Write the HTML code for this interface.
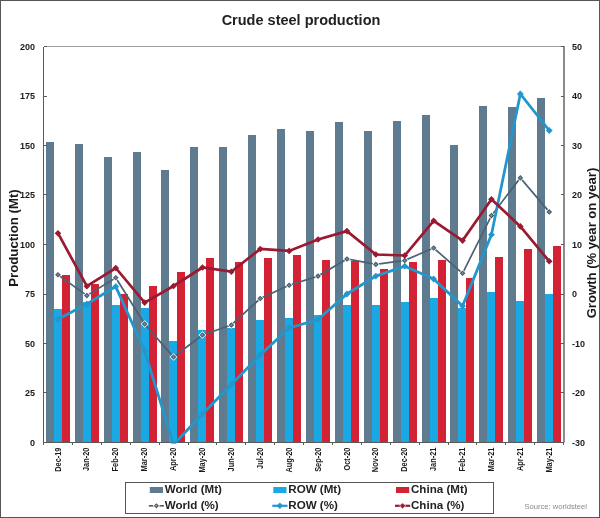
<!DOCTYPE html><html><head><meta charset="utf-8"><title>Crude steel production</title><style>html,body{margin:0;padding:0;background:#fff;}body{width:600px;height:518px;overflow:hidden;}svg{display:block;}text{font-family:'Liberation Sans', Arial, sans-serif;}</style></head><body><svg width="600" height="518" viewBox="0 0 600 518"><rect x="0" y="0" width="600" height="518" fill="#fff"/><rect x="0.5" y="0.5" width="599" height="517" fill="none" stroke="#555" stroke-width="1"/><text x="301" y="25.4" text-anchor="middle" font-size="14.5" font-weight="bold" fill="#222">Crude steel production</text><g shape-rendering="crispEdges"><rect x="45.85" y="142" width="8" height="300" fill="#5e7b8f"/><rect x="53.85" y="309.1" width="8" height="132.9" fill="#1aa8e4"/><rect x="61.85" y="274.7" width="8" height="167.3" fill="#d22233"/><rect x="74.75" y="143.5" width="8" height="298.5" fill="#5e7b8f"/><rect x="82.75" y="301.9" width="8" height="140.1" fill="#1aa8e4"/><rect x="90.75" y="283.9" width="8" height="158.1" fill="#d22233"/><rect x="103.65" y="156.7" width="8" height="285.3" fill="#5e7b8f"/><rect x="111.65" y="304.9" width="8" height="137.1" fill="#1aa8e4"/><rect x="119.65" y="294.4" width="8" height="147.6" fill="#d22233"/><rect x="132.55" y="151.6" width="8" height="290.4" fill="#5e7b8f"/><rect x="140.55" y="307.9" width="8" height="134.1" fill="#1aa8e4"/><rect x="148.55" y="286" width="8" height="156" fill="#d22233"/><rect x="161.45" y="169.9" width="8" height="272.1" fill="#5e7b8f"/><rect x="169.45" y="340.8" width="8" height="101.2" fill="#1aa8e4"/><rect x="177.45" y="271.8" width="8" height="170.2" fill="#d22233"/><rect x="190.35" y="146.5" width="8" height="295.5" fill="#5e7b8f"/><rect x="198.35" y="330.2" width="8" height="111.8" fill="#1aa8e4"/><rect x="206.35" y="257.8" width="8" height="184.2" fill="#d22233"/><rect x="219.25" y="146.5" width="8" height="295.5" fill="#5e7b8f"/><rect x="227.25" y="327.9" width="8" height="114.1" fill="#1aa8e4"/><rect x="235.25" y="261.7" width="8" height="180.3" fill="#d22233"/><rect x="248.15" y="135.1" width="8" height="306.9" fill="#5e7b8f"/><rect x="256.15" y="320" width="8" height="122" fill="#1aa8e4"/><rect x="264.15" y="258" width="8" height="184" fill="#d22233"/><rect x="277.05" y="129.4" width="8" height="312.6" fill="#5e7b8f"/><rect x="285.05" y="317.7" width="8" height="124.3" fill="#1aa8e4"/><rect x="293.05" y="255.1" width="8" height="186.9" fill="#d22233"/><rect x="305.95" y="130.9" width="8" height="311.1" fill="#5e7b8f"/><rect x="313.95" y="315.1" width="8" height="126.9" fill="#1aa8e4"/><rect x="321.95" y="259.6" width="8" height="182.4" fill="#d22233"/><rect x="334.85" y="121.9" width="8" height="320.1" fill="#5e7b8f"/><rect x="342.85" y="304.9" width="8" height="137.1" fill="#1aa8e4"/><rect x="350.85" y="261.1" width="8" height="180.9" fill="#d22233"/><rect x="363.75" y="130.9" width="8" height="311.1" fill="#5e7b8f"/><rect x="371.75" y="304.9" width="8" height="137.1" fill="#1aa8e4"/><rect x="379.75" y="268.9" width="8" height="173.1" fill="#d22233"/><rect x="392.65" y="121.4" width="8" height="320.6" fill="#5e7b8f"/><rect x="400.65" y="302" width="8" height="140" fill="#1aa8e4"/><rect x="408.65" y="262" width="8" height="180" fill="#d22233"/><rect x="421.55" y="115.4" width="8" height="326.6" fill="#5e7b8f"/><rect x="429.55" y="298" width="8" height="144" fill="#1aa8e4"/><rect x="437.55" y="260.3" width="8" height="181.7" fill="#d22233"/><rect x="450.45" y="144.8" width="8" height="297.2" fill="#5e7b8f"/><rect x="458.45" y="307.5" width="8" height="134.5" fill="#1aa8e4"/><rect x="466.45" y="278.2" width="8" height="163.8" fill="#d22233"/><rect x="479.35" y="105.8" width="8" height="336.2" fill="#5e7b8f"/><rect x="487.35" y="291.6" width="8" height="150.4" fill="#1aa8e4"/><rect x="495.35" y="256.6" width="8" height="185.4" fill="#d22233"/><rect x="508.25" y="107.2" width="8" height="334.8" fill="#5e7b8f"/><rect x="516.25" y="300.5" width="8" height="141.5" fill="#1aa8e4"/><rect x="524.25" y="248.9" width="8" height="193.1" fill="#d22233"/><rect x="537.15" y="97.7" width="8" height="344.3" fill="#5e7b8f"/><rect x="545.15" y="294.3" width="8" height="147.7" fill="#1aa8e4"/><rect x="553.15" y="245.8" width="8" height="196.2" fill="#d22233"/></g><g shape-rendering="crispEdges" fill="none" stroke-width="1"><line x1="43.5" y1="46.5" x2="563.5" y2="46.5" stroke="#a0a0a0"/><line x1="43.5" y1="46.5" x2="43.5" y2="445" stroke="#5a5a5a"/><line x1="564" y1="46" x2="564" y2="442.5" stroke="#5a5a5a" stroke-width="1.4" shape-rendering="geometricPrecision"/><line x1="43.5" y1="442.5" x2="563.5" y2="442.5" stroke="#5a5a5a"/><line x1="43.5" y1="46.5" x2="46.5" y2="46.5" stroke="#5a5a5a"/><line x1="561" y1="46.5" x2="564" y2="46.5" stroke="#5a5a5a"/><line x1="43.5" y1="96.5" x2="46.5" y2="96.5" stroke="#5a5a5a"/><line x1="561" y1="96.5" x2="564" y2="96.5" stroke="#5a5a5a"/><line x1="43.5" y1="145.5" x2="46.5" y2="145.5" stroke="#5a5a5a"/><line x1="561" y1="145.5" x2="564" y2="145.5" stroke="#5a5a5a"/><line x1="43.5" y1="194.5" x2="46.5" y2="194.5" stroke="#5a5a5a"/><line x1="561" y1="194.5" x2="564" y2="194.5" stroke="#5a5a5a"/><line x1="43.5" y1="244.5" x2="46.5" y2="244.5" stroke="#5a5a5a"/><line x1="561" y1="244.5" x2="564" y2="244.5" stroke="#5a5a5a"/><line x1="43.5" y1="294.5" x2="46.5" y2="294.5" stroke="#5a5a5a"/><line x1="561" y1="294.5" x2="564" y2="294.5" stroke="#5a5a5a"/><line x1="43.5" y1="343.5" x2="46.5" y2="343.5" stroke="#5a5a5a"/><line x1="561" y1="343.5" x2="564" y2="343.5" stroke="#5a5a5a"/><line x1="43.5" y1="392.5" x2="46.5" y2="392.5" stroke="#5a5a5a"/><line x1="561" y1="392.5" x2="564" y2="392.5" stroke="#5a5a5a"/><line x1="43.5" y1="442.5" x2="46.5" y2="442.5" stroke="#5a5a5a"/><line x1="561" y1="442.5" x2="564" y2="442.5" stroke="#5a5a5a"/><line x1="43.5" y1="442.5" x2="43.5" y2="445" stroke="#5a5a5a"/><line x1="72.5" y1="442.5" x2="72.5" y2="445" stroke="#5a5a5a"/><line x1="101.5" y1="442.5" x2="101.5" y2="445" stroke="#5a5a5a"/><line x1="130.5" y1="442.5" x2="130.5" y2="445" stroke="#5a5a5a"/><line x1="159.5" y1="442.5" x2="159.5" y2="445" stroke="#5a5a5a"/><line x1="188.5" y1="442.5" x2="188.5" y2="445" stroke="#5a5a5a"/><line x1="216.5" y1="442.5" x2="216.5" y2="445" stroke="#5a5a5a"/><line x1="245.5" y1="442.5" x2="245.5" y2="445" stroke="#5a5a5a"/><line x1="274.5" y1="442.5" x2="274.5" y2="445" stroke="#5a5a5a"/><line x1="303.5" y1="442.5" x2="303.5" y2="445" stroke="#5a5a5a"/><line x1="332.5" y1="442.5" x2="332.5" y2="445" stroke="#5a5a5a"/><line x1="361.5" y1="442.5" x2="361.5" y2="445" stroke="#5a5a5a"/><line x1="390.5" y1="442.5" x2="390.5" y2="445" stroke="#5a5a5a"/><line x1="419.5" y1="442.5" x2="419.5" y2="445" stroke="#5a5a5a"/><line x1="448.5" y1="442.5" x2="448.5" y2="445" stroke="#5a5a5a"/><line x1="476.5" y1="442.5" x2="476.5" y2="445" stroke="#5a5a5a"/><line x1="505.5" y1="442.5" x2="505.5" y2="445" stroke="#5a5a5a"/><line x1="534.5" y1="442.5" x2="534.5" y2="445" stroke="#5a5a5a"/><line x1="563.5" y1="442.5" x2="563.5" y2="445" stroke="#5a5a5a"/></g><svg x="44" y="47" width="519.5" height="396.5" viewBox="44 47 519.5 396.5" overflow="hidden"><polyline points="57.95,274.7 86.85,295.6 115.75,277.7 144.65,324 173.55,357 202.45,335 231.35,325 260.25,298.5 289.15,285.2 318.05,276.1 346.95,259 375.85,264.4 404.75,260.4 433.65,248 462.55,273.3 491.45,215.6 520.35,177.9 549.25,211.9" fill="none" stroke="#4c6272" stroke-width="1.7" stroke-linejoin="miter" stroke-linecap="butt"/><path d="M57.95 270.9L61.75 274.7L57.95 278.5L54.15 274.7Z" fill="#ffffff"/><path d="M86.85 291.8L90.65 295.6L86.85 299.4L83.05 295.6Z" fill="#ffffff"/><path d="M115.75 273.9L119.55 277.7L115.75 281.5L111.95 277.7Z" fill="#ffffff"/><path d="M144.65 320.2L148.45 324L144.65 327.8L140.85 324Z" fill="#ffffff"/><path d="M173.55 353.2L177.35 357L173.55 360.8L169.75 357Z" fill="#ffffff"/><path d="M202.45 331.2L206.25 335L202.45 338.8L198.65 335Z" fill="#ffffff"/><path d="M231.35 321.2L235.15 325L231.35 328.8L227.55 325Z" fill="#ffffff"/><path d="M260.25 294.7L264.05 298.5L260.25 302.3L256.45 298.5Z" fill="#ffffff"/><path d="M289.15 281.4L292.95 285.2L289.15 289L285.35 285.2Z" fill="#ffffff"/><path d="M318.05 272.3L321.85 276.1L318.05 279.9L314.25 276.1Z" fill="#ffffff"/><path d="M346.95 255.2L350.75 259L346.95 262.8L343.15 259Z" fill="#ffffff"/><path d="M375.85 260.6L379.65 264.4L375.85 268.2L372.05 264.4Z" fill="#ffffff"/><path d="M404.75 256.6L408.55 260.4L404.75 264.2L400.95 260.4Z" fill="#ffffff"/><path d="M433.65 244.2L437.45 248L433.65 251.8L429.85 248Z" fill="#ffffff"/><path d="M462.55 269.5L466.35 273.3L462.55 277.1L458.75 273.3Z" fill="#ffffff"/><path d="M491.45 211.8L495.25 215.6L491.45 219.4L487.65 215.6Z" fill="#ffffff"/><path d="M520.35 174.1L524.15 177.9L520.35 181.7L516.55 177.9Z" fill="#ffffff"/><path d="M549.25 208.1L553.05 211.9L549.25 215.7L545.45 211.9Z" fill="#ffffff"/><path d="M57.95 271.9L60.75 274.7L57.95 277.5L55.15 274.7Z" fill="#3f5361"/><path d="M86.85 292.8L89.65 295.6L86.85 298.4L84.05 295.6Z" fill="#3f5361"/><path d="M115.75 274.9L118.55 277.7L115.75 280.5L112.95 277.7Z" fill="#3f5361"/><path d="M144.65 321.2L147.45 324L144.65 326.8L141.85 324Z" fill="#3f5361"/><path d="M173.55 354.2L176.35 357L173.55 359.8L170.75 357Z" fill="#3f5361"/><path d="M202.45 332.2L205.25 335L202.45 337.8L199.65 335Z" fill="#3f5361"/><path d="M231.35 322.2L234.15 325L231.35 327.8L228.55 325Z" fill="#3f5361"/><path d="M260.25 295.7L263.05 298.5L260.25 301.3L257.45 298.5Z" fill="#3f5361"/><path d="M289.15 282.4L291.95 285.2L289.15 288L286.35 285.2Z" fill="#3f5361"/><path d="M318.05 273.3L320.85 276.1L318.05 278.9L315.25 276.1Z" fill="#3f5361"/><path d="M346.95 256.2L349.75 259L346.95 261.8L344.15 259Z" fill="#3f5361"/><path d="M375.85 261.6L378.65 264.4L375.85 267.2L373.05 264.4Z" fill="#3f5361"/><path d="M404.75 257.6L407.55 260.4L404.75 263.2L401.95 260.4Z" fill="#3f5361"/><path d="M433.65 245.2L436.45 248L433.65 250.8L430.85 248Z" fill="#3f5361"/><path d="M462.55 270.5L465.35 273.3L462.55 276.1L459.75 273.3Z" fill="#3f5361"/><path d="M491.45 212.8L494.25 215.6L491.45 218.4L488.65 215.6Z" fill="#3f5361"/><path d="M520.35 175.1L523.15 177.9L520.35 180.7L517.55 177.9Z" fill="#3f5361"/><path d="M549.25 209.1L552.05 211.9L549.25 214.7L546.45 211.9Z" fill="#3f5361"/><path d="M57.95 273.2L59.45 274.7L57.95 276.2L56.45 274.7Z" fill="#718b9a"/><path d="M86.85 294.1L88.35 295.6L86.85 297.1L85.35 295.6Z" fill="#718b9a"/><path d="M115.75 276.2L117.25 277.7L115.75 279.2L114.25 277.7Z" fill="#718b9a"/><path d="M144.65 322.5L146.15 324L144.65 325.5L143.15 324Z" fill="#718b9a"/><path d="M173.55 355.5L175.05 357L173.55 358.5L172.05 357Z" fill="#718b9a"/><path d="M202.45 333.5L203.95 335L202.45 336.5L200.95 335Z" fill="#718b9a"/><path d="M231.35 323.5L232.85 325L231.35 326.5L229.85 325Z" fill="#718b9a"/><path d="M260.25 297L261.75 298.5L260.25 300L258.75 298.5Z" fill="#718b9a"/><path d="M289.15 283.7L290.65 285.2L289.15 286.7L287.65 285.2Z" fill="#718b9a"/><path d="M318.05 274.6L319.55 276.1L318.05 277.6L316.55 276.1Z" fill="#718b9a"/><path d="M346.95 257.5L348.45 259L346.95 260.5L345.45 259Z" fill="#718b9a"/><path d="M375.85 262.9L377.35 264.4L375.85 265.9L374.35 264.4Z" fill="#718b9a"/><path d="M404.75 258.9L406.25 260.4L404.75 261.9L403.25 260.4Z" fill="#718b9a"/><path d="M433.65 246.5L435.15 248L433.65 249.5L432.15 248Z" fill="#718b9a"/><path d="M462.55 271.8L464.05 273.3L462.55 274.8L461.05 273.3Z" fill="#718b9a"/><path d="M491.45 214.1L492.95 215.6L491.45 217.1L489.95 215.6Z" fill="#718b9a"/><path d="M520.35 176.4L521.85 177.9L520.35 179.4L518.85 177.9Z" fill="#718b9a"/><path d="M549.25 210.4L550.75 211.9L549.25 213.4L547.75 211.9Z" fill="#718b9a"/><polyline points="57.95,319.3 86.85,304 115.75,286.6 144.65,351 173.55,444.5 202.45,414 231.35,384.5 260.25,355 289.15,328 318.05,319.5 346.95,294 375.85,276.1 404.75,266.2 433.65,279 462.55,306 491.45,234.7 520.35,94 549.25,130.5" fill="none" stroke="#2396cb" stroke-width="2.8" stroke-linejoin="miter" stroke-linecap="butt"/><path d="M57.95 315.9L61.35 319.3L57.95 322.7L54.55 319.3Z" fill="#2396cb"/><path d="M86.85 300.6L90.25 304L86.85 307.4L83.45 304Z" fill="#2396cb"/><path d="M115.75 283.2L119.15 286.6L115.75 290L112.35 286.6Z" fill="#2396cb"/><path d="M144.65 347.6L148.05 351L144.65 354.4L141.25 351Z" fill="#2396cb"/><path d="M173.55 441.1L176.95 444.5L173.55 447.9L170.15 444.5Z" fill="#2396cb"/><path d="M202.45 410.6L205.85 414L202.45 417.4L199.05 414Z" fill="#2396cb"/><path d="M231.35 381.1L234.75 384.5L231.35 387.9L227.95 384.5Z" fill="#2396cb"/><path d="M260.25 351.6L263.65 355L260.25 358.4L256.85 355Z" fill="#2396cb"/><path d="M289.15 324.6L292.55 328L289.15 331.4L285.75 328Z" fill="#2396cb"/><path d="M318.05 316.1L321.45 319.5L318.05 322.9L314.65 319.5Z" fill="#2396cb"/><path d="M346.95 290.6L350.35 294L346.95 297.4L343.55 294Z" fill="#2396cb"/><path d="M375.85 272.7L379.25 276.1L375.85 279.5L372.45 276.1Z" fill="#2396cb"/><path d="M404.75 262.8L408.15 266.2L404.75 269.6L401.35 266.2Z" fill="#2396cb"/><path d="M433.65 275.6L437.05 279L433.65 282.4L430.25 279Z" fill="#2396cb"/><path d="M462.55 302.6L465.95 306L462.55 309.4L459.15 306Z" fill="#2396cb"/><path d="M491.45 231.3L494.85 234.7L491.45 238.1L488.05 234.7Z" fill="#2396cb"/><path d="M520.35 90.6L523.75 94L520.35 97.4L516.95 94Z" fill="#2396cb"/><path d="M549.25 127.1L552.65 130.5L549.25 133.9L545.85 130.5Z" fill="#2396cb"/><polyline points="57.95,233.2 86.85,286.2 115.75,268 144.65,302.6 173.55,286 202.45,267.5 231.35,271.7 260.25,249 289.15,250.9 318.05,239.5 346.95,231.1 375.85,254.5 404.75,255.5 433.65,220.8 462.55,240.6 491.45,199.2 520.35,226.4 549.25,261.3" fill="none" stroke="#9a1a32" stroke-width="2.7" stroke-linejoin="miter" stroke-linecap="butt"/><path d="M57.95 229.9L61.25 233.2L57.95 236.5L54.65 233.2Z" fill="#9a1a32"/><path d="M86.85 282.9L90.15 286.2L86.85 289.5L83.55 286.2Z" fill="#9a1a32"/><path d="M115.75 264.7L119.05 268L115.75 271.3L112.45 268Z" fill="#9a1a32"/><path d="M144.65 299.3L147.95 302.6L144.65 305.9L141.35 302.6Z" fill="#9a1a32"/><path d="M173.55 282.7L176.85 286L173.55 289.3L170.25 286Z" fill="#9a1a32"/><path d="M202.45 264.2L205.75 267.5L202.45 270.8L199.15 267.5Z" fill="#9a1a32"/><path d="M231.35 268.4L234.65 271.7L231.35 275L228.05 271.7Z" fill="#9a1a32"/><path d="M260.25 245.7L263.55 249L260.25 252.3L256.95 249Z" fill="#9a1a32"/><path d="M289.15 247.6L292.45 250.9L289.15 254.2L285.85 250.9Z" fill="#9a1a32"/><path d="M318.05 236.2L321.35 239.5L318.05 242.8L314.75 239.5Z" fill="#9a1a32"/><path d="M346.95 227.8L350.25 231.1L346.95 234.4L343.65 231.1Z" fill="#9a1a32"/><path d="M375.85 251.2L379.15 254.5L375.85 257.8L372.55 254.5Z" fill="#9a1a32"/><path d="M404.75 252.2L408.05 255.5L404.75 258.8L401.45 255.5Z" fill="#9a1a32"/><path d="M433.65 217.5L436.95 220.8L433.65 224.1L430.35 220.8Z" fill="#9a1a32"/><path d="M462.55 237.3L465.85 240.6L462.55 243.9L459.25 240.6Z" fill="#9a1a32"/><path d="M491.45 195.9L494.75 199.2L491.45 202.5L488.15 199.2Z" fill="#9a1a32"/><path d="M520.35 223.1L523.65 226.4L520.35 229.7L517.05 226.4Z" fill="#9a1a32"/><path d="M549.25 258L552.55 261.3L549.25 264.6L545.95 261.3Z" fill="#9a1a32"/></svg><g font-size="9" font-weight="bold" fill="#1a1a1a"><text x="35" y="49.8" text-anchor="end">200</text><text x="35" y="99.3" text-anchor="end">175</text><text x="35" y="148.8" text-anchor="end">150</text><text x="35" y="198.3" text-anchor="end">125</text><text x="35" y="247.8" text-anchor="end">100</text><text x="35" y="297.3" text-anchor="end">75</text><text x="35" y="346.8" text-anchor="end">50</text><text x="35" y="396.3" text-anchor="end">25</text><text x="35" y="445.8" text-anchor="end">0</text><text x="572" y="49.8">50</text><text x="572" y="99.3">40</text><text x="572" y="148.8">30</text><text x="572" y="198.3">20</text><text x="572" y="247.8">10</text><text x="572" y="297.3">0</text><text x="572" y="346.8">-10</text><text x="572" y="396.3">-20</text><text x="572" y="445.8">-30</text></g><g font-size="8.2" font-weight="bold" fill="#1a1a1a"><text transform="translate(60.55 447.6) rotate(-90) scale(0.9 1)" text-anchor="end">Dec-19</text><text transform="translate(89.45 447.6) rotate(-90) scale(0.9 1)" text-anchor="end">Jan-20</text><text transform="translate(118.35 447.6) rotate(-90) scale(0.9 1)" text-anchor="end">Feb-20</text><text transform="translate(147.25 447.6) rotate(-90) scale(0.9 1)" text-anchor="end">Mar-20</text><text transform="translate(176.15 447.6) rotate(-90) scale(0.9 1)" text-anchor="end">Apr-20</text><text transform="translate(205.05 447.6) rotate(-90) scale(0.9 1)" text-anchor="end">May-20</text><text transform="translate(233.95 447.6) rotate(-90) scale(0.9 1)" text-anchor="end">Jun-20</text><text transform="translate(262.85 447.6) rotate(-90) scale(0.9 1)" text-anchor="end">Jul-20</text><text transform="translate(291.75 447.6) rotate(-90) scale(0.9 1)" text-anchor="end">Aug-20</text><text transform="translate(320.65 447.6) rotate(-90) scale(0.9 1)" text-anchor="end">Sep-20</text><text transform="translate(349.55 447.6) rotate(-90) scale(0.9 1)" text-anchor="end">Oct-20</text><text transform="translate(378.45 447.6) rotate(-90) scale(0.9 1)" text-anchor="end">Nov-20</text><text transform="translate(407.35 447.6) rotate(-90) scale(0.9 1)" text-anchor="end">Dec-20</text><text transform="translate(436.25 447.6) rotate(-90) scale(0.9 1)" text-anchor="end">Jan-21</text><text transform="translate(465.15 447.6) rotate(-90) scale(0.9 1)" text-anchor="end">Feb-21</text><text transform="translate(494.05 447.6) rotate(-90) scale(0.9 1)" text-anchor="end">Mar-21</text><text transform="translate(522.95 447.6) rotate(-90) scale(0.9 1)" text-anchor="end">Apr-21</text><text transform="translate(551.85 447.6) rotate(-90) scale(0.9 1)" text-anchor="end">May-21</text></g><text transform="translate(18.2 238) rotate(-90)" text-anchor="middle" font-size="13.2" font-weight="bold" fill="#1a1a1a">Production (Mt)</text><text transform="translate(595.8 243) rotate(-90)" text-anchor="middle" font-size="13.1" font-weight="bold" fill="#1a1a1a">Growth (% year on year)</text><rect x="125.5" y="482.5" width="368" height="31" fill="#fff" stroke="#555" stroke-width="1" shape-rendering="crispEdges"/><g font-size="11.6" font-weight="bold" fill="#222"><rect x="149.8" y="487" width="13.2" height="6" fill="#5e7b8f"/><text x="164.8" y="493.3">World (Mt)</text><line x1="148.8" y1="505.8" x2="164" y2="505.8" stroke="#4f5a62" stroke-width="1.6"/><path d="M156.4 502.2L160 505.8L156.4 509.4L152.8 505.8Z" fill="#ffffff"/><path d="M156.4 503.2L159 505.8L156.4 508.4L153.8 505.8Z" fill="#4f5a62"/><path d="M156.4 504.8L157.4 505.8L156.4 506.8L155.4 505.8Z" fill="#a8b4bc"/><text x="164.8" y="509.2">World (%)</text><rect x="273.3" y="487" width="13.2" height="6" fill="#1aa8e4"/><text x="288.3" y="493.3">ROW (Mt)</text><line x1="272.3" y1="505.8" x2="287.5" y2="505.8" stroke="#2396cb" stroke-width="2.2"/><path d="M279.9 502.6L283.1 505.8L279.9 509L276.7 505.8Z" fill="#2396cb"/><text x="288.3" y="509.2">ROW (%)</text><rect x="396" y="487" width="13.2" height="6" fill="#d22233"/><text x="411" y="493.3">China (Mt)</text><line x1="395" y1="505.8" x2="410.2" y2="505.8" stroke="#9a1a32" stroke-width="2.2"/><path d="M402.6 502.4L406 505.8L402.6 509.2L399.2 505.8Z" fill="#f4d4d8"/><path d="M402.6 503.2L405.2 505.8L402.6 508.4L400 505.8Z" fill="#9a1a32"/><text x="411" y="509.2">China (%)</text></g><text x="587" y="509.3" text-anchor="end" font-size="7.6" fill="#8a8a8a">Source: worldsteel</text></svg></body></html>
